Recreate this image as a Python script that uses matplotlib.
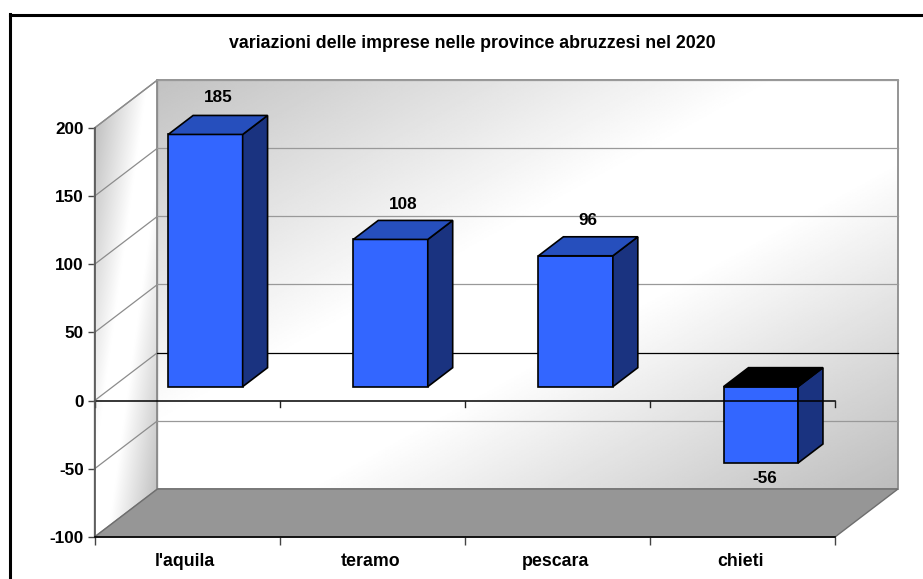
import numpy as np
import matplotlib
matplotlib.use("Agg")
import matplotlib.pyplot as plt
from matplotlib.patches import Polygon
from matplotlib.lines import Line2D

plt.rcParams['font.family'] = ['Liberation Sans', 'DejaVu Sans']
plt.rcParams['font.weight'] = 'bold'
plt.rcParams['axes.unicode_minus'] = False

# data
title = "variazioni delle imprese nelle province abruzzesi nel 2020"
provinces = ["l'aquila", "teramo", "pescara", "chieti"]
changes = [185, 108, 96, -56]
y_ticks = [-100, -50, 0, 50, 100, 150, 200]

W, H = 923, 579
# oblique depth of the box, in axis units
DX = 63 / 185.25
DY = 48 / 1.3633

fig = plt.figure(figsize=(W / 100, H / 100), dpi=100)
ax = fig.add_axes([94.5 / W, 1 - 537 / H, 740.5 / W, 409 / H])
ax.set_xlim(0, len(provinces))
ax.set_ylim(-100, 200)
ax.patch.set_visible(False)


def proj(x, y, d):
    return x + DX * d, y + DY * d


def poly(points, **kw):
    kw.setdefault('clip_on', False)
    p = Polygon(points, closed=True, **kw)
    ax.add_patch(p)
    return p


# gray -> white -> gray diagonal background for the walls
def gradient(points, lo, hi, zorder):
    xs = [q[0] for q in points]
    ys = [q[1] for q in points]
    ext = [min(xs), max(xs), min(ys), max(ys)]
    u, v = np.meshgrid(np.linspace(0, 1, 300), np.linspace(0, 1, 300))
    t = (u + v) / 2
    g = np.where(t < 0.42, lo + (1 - lo) * t / 0.42,
                 np.where(t < 0.6, 1.0, 1 - (1 - hi) * (t - 0.6) / 0.4))
    im = ax.imshow(g, extent=ext, origin='upper', cmap='gray', vmin=0, vmax=1,
                   aspect='auto', zorder=zorder, interpolation='bilinear')
    im.set_clip_box(fig.bbox)
    im.set_clip_path(Polygon(points, closed=True, transform=ax.transData))
    ax.set_xlim(0, len(provinces))
    ax.set_ylim(-100, 200)


back = [proj(0, -100, 1), proj(4, -100, 1), proj(4, 200, 1), proj(0, 200, 1)]
side = [proj(0, -100, 0), proj(0, -100, 1), proj(0, 200, 1), proj(0, 200, 0)]
floor = [proj(0, -100, 0), proj(4, -100, 0), proj(4, -100, 1), proj(0, -100, 1)]

gradient(back, 0.76, 0.74, 1)
gradient(side, 0.72, 0.72, 1)
poly(back, fc='none', ec='#8c8c8c', lw=1.3, zorder=2)
poly(side, fc='none', ec='#8c8c8c', lw=1.0, zorder=2)
poly(floor, fc='#969696', ec='#6e6e6e', lw=1.0, zorder=2)

# gridlines on side and back walls
for v in y_ticks[1:-1] + [200]:
    col = 'black' if v == 0 else '#999999'
    p0, p1, p2 = proj(0, v, 0), proj(0, v, 1), proj(4, v, 1)
    ax.plot([p0[0], p1[0]], [p0[1], p1[1]], color='#8c8c8c', lw=0.9, zorder=3, clip_on=False)
    ax.plot([p1[0], p2[0]], [p1[1], p2[1]], color=col, lw=0.9, zorder=3, clip_on=False)

# bars
BAR_W = 74.5 / 185.25
D0 = 14 / 48
D1 = 33 / 48
label_dy = [18, 16, 16, -15]
for i, (name, val) in enumerate(zip(provinces, changes)):
    x0 = i + 0.5 - BAR_W / 2
    x1 = i + 0.5 + BAR_W / 2
    lo, hi = min(0, val), max(0, val)
    top_col = '#264fbd' if val >= 0 else 'black'
    kw = dict(ec='black', lw=1.2, joinstyle='miter', zorder=5)
    poly([proj(x0, lo, D0), proj(x1, lo, D0), proj(x1, hi, D0), proj(x0, hi, D0)], fc='#3366ff', **kw)
    poly([proj(x1, lo, D0), proj(x1, lo, D1), proj(x1, hi, D1), proj(x1, hi, D0)], fc='#1a3380', **kw)
    poly([proj(x0, hi, D0), proj(x1, hi, D0), proj(x1, hi, D1), proj(x0, hi, D1)], fc=top_col, **kw)

    # data label
    if val >= 0:
        cx, _ = proj(i + 0.5, 0, (D0 + D1) / 2)
        _, ly = proj(0, val, D1)
    else:
        cx, _ = proj(i + 0.5, 0, 0.35)
        _, ly = proj(0, val, D0)
    ax.annotate(str(val), (cx, ly), xytext=(0, label_dy[i] * 0.72), textcoords='offset points',
                ha='center', va='center', fontsize=12.3, zorder=7, annotation_clip=False)

# zero axis on the front plane, drawn over the bars
ax.plot([0, 4], [0, 0], color='black', lw=1.1, zorder=6, clip_on=False)
for x in range(5):
    ax.plot([x, x], [0, -4.5], color='#222222', lw=1.0, zorder=6, clip_on=False)

# axes
for s in ['top', 'right']:
    ax.spines[s].set_visible(False)
ax.spines['left'].set_color('#555555')
ax.spines['left'].set_linewidth(1.2)
ax.spines['left'].set_zorder(6)
ax.spines['bottom'].set_color('black')
ax.spines['bottom'].set_linewidth(1.2)
ax.spines['bottom'].set_zorder(6)
ax.set_yticks(y_ticks)
ax.tick_params(axis='y', length=5, width=1.0, color='#444444', labelsize=12.3, pad=2.7)
ax.set_xticks(range(5))
ax.set_xticklabels([])
ax.tick_params(axis='x', which='major', length=6, width=1.0, color='#444444')
ax.set_xticks(np.arange(len(provinces)) + 0.49, minor=True)
ax.set_xticklabels(provinces, minor=True, fontsize=12.8)
ax.tick_params(axis='x', which='minor', length=0, pad=11.5)

fig.text(472.5 / W, 1 - 43.5 / H, title, ha='center', va='center', fontsize=12.75)

# chart frame, only top and left are inside the image
fig.add_artist(Line2D([10 / W, 10 / W], [0, 1 - 14 / H], color='black', lw=2.2, solid_capstyle='projecting'))
fig.add_artist(Line2D([10 / W, 1], [1 - 15 / H, 1 - 15 / H], color='black', lw=2.2, solid_capstyle='projecting'))

fig.savefig('out.png', dpi=100)
